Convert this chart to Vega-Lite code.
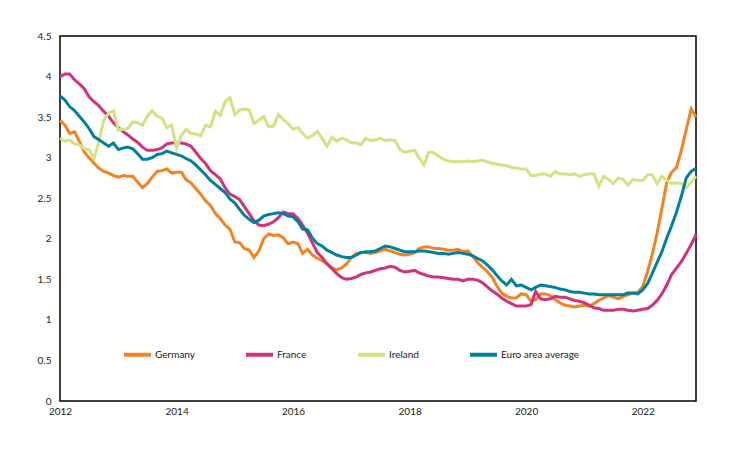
{
  "$schema": "https://vega.github.io/schema/vega-lite/v6.json",
  "width": 636,
  "height": 365,
  "autosize": {"type": "none"},
  "padding": {"left": 60, "top": 36, "right": 60, "bottom": 49},
  "background": "white",
  "config": {
    "font": "Lato",
    "view": {"stroke": "#000000", "strokeWidth": 1.5},
    "axis": {"labelFont": "Lato", "labelFontSize": 10, "labelColor": "#222222", "grid": false, "ticks": false, "domain": false}
  },
  "data": {
    "values": [
      {"date":"2012-01","Germany":3.46,"France":4.00,"Ireland":3.24,"Euro area average":3.76},
      {"date":"2012-02","Germany":3.40,"France":4.03,"Ireland":3.20,"Euro area average":3.71},
      {"date":"2012-03","Germany":3.30,"France":4.03,"Ireland":3.22,"Euro area average":3.63},
      {"date":"2012-04","Germany":3.32,"France":3.96,"Ireland":3.17,"Euro area average":3.58},
      {"date":"2012-05","Germany":3.20,"France":3.91,"Ireland":3.16,"Euro area average":3.51},
      {"date":"2012-06","Germany":3.07,"France":3.85,"Ireland":3.11,"Euro area average":3.44},
      {"date":"2012-07","Germany":3.00,"France":3.75,"Ireland":3.10,"Euro area average":3.36},
      {"date":"2012-08","Germany":2.93,"France":3.69,"Ireland":2.99,"Euro area average":3.26},
      {"date":"2012-09","Germany":2.87,"France":3.64,"Ireland":3.20,"Euro area average":3.22},
      {"date":"2012-10","Germany":2.83,"France":3.57,"Ireland":3.46,"Euro area average":3.18},
      {"date":"2012-11","Germany":2.81,"France":3.51,"Ireland":3.55,"Euro area average":3.14},
      {"date":"2012-12","Germany":2.78,"France":3.43,"Ireland":3.58,"Euro area average":3.18},
      {"date":"2013-01","Germany":2.76,"France":3.37,"Ireland":3.34,"Euro area average":3.10},
      {"date":"2013-02","Germany":2.78,"France":3.32,"Ireland":3.35,"Euro area average":3.12},
      {"date":"2013-03","Germany":2.77,"France":3.28,"Ireland":3.36,"Euro area average":3.13},
      {"date":"2013-04","Germany":2.77,"France":3.23,"Ireland":3.44,"Euro area average":3.11},
      {"date":"2013-05","Germany":2.70,"France":3.19,"Ireland":3.43,"Euro area average":3.05},
      {"date":"2013-06","Germany":2.63,"France":3.13,"Ireland":3.40,"Euro area average":2.98},
      {"date":"2013-07","Germany":2.68,"France":3.09,"Ireland":3.51,"Euro area average":2.98},
      {"date":"2013-08","Germany":2.76,"France":3.09,"Ireland":3.58,"Euro area average":3.00},
      {"date":"2013-09","Germany":2.83,"France":3.10,"Ireland":3.51,"Euro area average":3.04},
      {"date":"2013-10","Germany":2.84,"France":3.12,"Ireland":3.49,"Euro area average":3.05},
      {"date":"2013-11","Germany":2.86,"France":3.17,"Ireland":3.37,"Euro area average":3.08},
      {"date":"2013-12","Germany":2.81,"France":3.18,"Ireland":3.40,"Euro area average":3.06},
      {"date":"2014-01","Germany":2.82,"France":3.18,"Ireland":3.12,"Euro area average":3.04},
      {"date":"2014-02","Germany":2.82,"France":3.18,"Ireland":3.28,"Euro area average":3.02},
      {"date":"2014-03","Germany":2.73,"France":3.17,"Ireland":3.35,"Euro area average":2.99},
      {"date":"2014-04","Germany":2.69,"France":3.14,"Ireland":3.30,"Euro area average":2.96},
      {"date":"2014-05","Germany":2.62,"France":3.07,"Ireland":3.29,"Euro area average":2.91},
      {"date":"2014-06","Germany":2.55,"France":2.99,"Ireland":3.27,"Euro area average":2.85},
      {"date":"2014-07","Germany":2.47,"France":2.93,"Ireland":3.40,"Euro area average":2.79},
      {"date":"2014-08","Germany":2.41,"France":2.84,"Ireland":3.38,"Euro area average":2.72},
      {"date":"2014-09","Germany":2.31,"France":2.79,"Ireland":3.57,"Euro area average":2.67},
      {"date":"2014-10","Germany":2.25,"France":2.74,"Ireland":3.52,"Euro area average":2.62},
      {"date":"2014-11","Germany":2.17,"France":2.63,"Ireland":3.69,"Euro area average":2.57},
      {"date":"2014-12","Germany":2.12,"France":2.55,"Ireland":3.74,"Euro area average":2.49},
      {"date":"2015-01","Germany":1.96,"France":2.52,"Ireland":3.53,"Euro area average":2.44},
      {"date":"2015-02","Germany":1.95,"France":2.48,"Ireland":3.59,"Euro area average":2.36},
      {"date":"2015-03","Germany":1.88,"France":2.40,"Ireland":3.60,"Euro area average":2.29},
      {"date":"2015-04","Germany":1.86,"France":2.31,"Ireland":3.59,"Euro area average":2.24},
      {"date":"2015-05","Germany":1.77,"France":2.22,"Ireland":3.42,"Euro area average":2.20},
      {"date":"2015-06","Germany":1.85,"France":2.17,"Ireland":3.46,"Euro area average":2.23},
      {"date":"2015-07","Germany":2.00,"France":2.16,"Ireland":3.51,"Euro area average":2.28},
      {"date":"2015-08","Germany":2.06,"France":2.18,"Ireland":3.38,"Euro area average":2.30},
      {"date":"2015-09","Germany":2.04,"France":2.21,"Ireland":3.39,"Euro area average":2.31},
      {"date":"2015-10","Germany":2.05,"France":2.26,"Ireland":3.53,"Euro area average":2.32},
      {"date":"2015-11","Germany":2.01,"France":2.33,"Ireland":3.47,"Euro area average":2.31},
      {"date":"2015-12","Germany":1.94,"France":2.31,"Ireland":3.42,"Euro area average":2.28},
      {"date":"2016-01","Germany":1.96,"France":2.31,"Ireland":3.35,"Euro area average":2.27},
      {"date":"2016-02","Germany":1.94,"France":2.25,"Ireland":3.37,"Euro area average":2.21},
      {"date":"2016-03","Germany":1.82,"France":2.17,"Ireland":3.30,"Euro area average":2.12},
      {"date":"2016-04","Germany":1.87,"France":2.07,"Ireland":3.24,"Euro area average":2.11},
      {"date":"2016-05","Germany":1.80,"France":1.95,"Ireland":3.27,"Euro area average":2.01},
      {"date":"2016-06","Germany":1.76,"France":1.83,"Ireland":3.32,"Euro area average":1.94},
      {"date":"2016-07","Germany":1.73,"France":1.77,"Ireland":3.24,"Euro area average":1.91},
      {"date":"2016-08","Germany":1.69,"France":1.69,"Ireland":3.14,"Euro area average":1.86},
      {"date":"2016-09","Germany":1.64,"France":1.63,"Ireland":3.25,"Euro area average":1.83},
      {"date":"2016-10","Germany":1.62,"France":1.57,"Ireland":3.20,"Euro area average":1.80},
      {"date":"2016-11","Germany":1.64,"France":1.52,"Ireland":3.24,"Euro area average":1.78},
      {"date":"2016-12","Germany":1.69,"France":1.50,"Ireland":3.22,"Euro area average":1.77},
      {"date":"2017-01","Germany":1.77,"France":1.51,"Ireland":3.18,"Euro area average":1.77},
      {"date":"2017-02","Germany":1.82,"France":1.53,"Ireland":3.18,"Euro area average":1.80},
      {"date":"2017-03","Germany":1.83,"France":1.56,"Ireland":3.16,"Euro area average":1.83},
      {"date":"2017-04","Germany":1.83,"France":1.58,"Ireland":3.24,"Euro area average":1.84},
      {"date":"2017-05","Germany":1.82,"France":1.59,"Ireland":3.21,"Euro area average":1.84},
      {"date":"2017-06","Germany":1.83,"France":1.61,"Ireland":3.22,"Euro area average":1.85},
      {"date":"2017-07","Germany":1.85,"France":1.63,"Ireland":3.24,"Euro area average":1.88},
      {"date":"2017-08","Germany":1.87,"France":1.64,"Ireland":3.21,"Euro area average":1.91},
      {"date":"2017-09","Germany":1.85,"France":1.66,"Ireland":3.22,"Euro area average":1.90},
      {"date":"2017-10","Germany":1.83,"France":1.65,"Ireland":3.21,"Euro area average":1.88},
      {"date":"2017-11","Germany":1.81,"France":1.61,"Ireland":3.10,"Euro area average":1.86},
      {"date":"2017-12","Germany":1.80,"France":1.59,"Ireland":3.07,"Euro area average":1.84},
      {"date":"2018-01","Germany":1.81,"France":1.60,"Ireland":3.08,"Euro area average":1.84},
      {"date":"2018-02","Germany":1.83,"France":1.61,"Ireland":3.09,"Euro area average":1.84},
      {"date":"2018-03","Germany":1.88,"France":1.58,"Ireland":3.00,"Euro area average":1.85},
      {"date":"2018-04","Germany":1.90,"France":1.56,"Ireland":2.91,"Euro area average":1.85},
      {"date":"2018-05","Germany":1.90,"France":1.54,"Ireland":3.07,"Euro area average":1.84},
      {"date":"2018-06","Germany":1.88,"France":1.53,"Ireland":3.06,"Euro area average":1.83},
      {"date":"2018-07","Germany":1.88,"France":1.53,"Ireland":3.02,"Euro area average":1.82},
      {"date":"2018-08","Germany":1.87,"France":1.52,"Ireland":2.98,"Euro area average":1.82},
      {"date":"2018-09","Germany":1.86,"France":1.51,"Ireland":2.96,"Euro area average":1.81},
      {"date":"2018-10","Germany":1.86,"France":1.50,"Ireland":2.95,"Euro area average":1.82},
      {"date":"2018-11","Germany":1.87,"France":1.50,"Ireland":2.95,"Euro area average":1.83},
      {"date":"2018-12","Germany":1.84,"France":1.48,"Ireland":2.95,"Euro area average":1.82},
      {"date":"2019-01","Germany":1.85,"France":1.50,"Ireland":2.96,"Euro area average":1.81},
      {"date":"2019-02","Germany":1.78,"France":1.50,"Ireland":2.95,"Euro area average":1.79},
      {"date":"2019-03","Germany":1.71,"France":1.49,"Ireland":2.96,"Euro area average":1.76},
      {"date":"2019-04","Germany":1.65,"France":1.46,"Ireland":2.97,"Euro area average":1.73},
      {"date":"2019-05","Germany":1.60,"France":1.41,"Ireland":2.95,"Euro area average":1.68},
      {"date":"2019-06","Germany":1.53,"France":1.36,"Ireland":2.93,"Euro area average":1.62},
      {"date":"2019-07","Germany":1.42,"France":1.32,"Ireland":2.92,"Euro area average":1.55},
      {"date":"2019-08","Germany":1.33,"France":1.27,"Ireland":2.91,"Euro area average":1.48},
      {"date":"2019-09","Germany":1.29,"France":1.23,"Ireland":2.90,"Euro area average":1.43},
      {"date":"2019-10","Germany":1.27,"France":1.20,"Ireland":2.88,"Euro area average":1.50},
      {"date":"2019-11","Germany":1.27,"France":1.17,"Ireland":2.87,"Euro area average":1.42},
      {"date":"2019-12","Germany":1.32,"France":1.17,"Ireland":2.86,"Euro area average":1.43},
      {"date":"2020-01","Germany":1.31,"France":1.17,"Ireland":2.86,"Euro area average":1.40},
      {"date":"2020-02","Germany":1.23,"France":1.19,"Ireland":2.78,"Euro area average":1.37},
      {"date":"2020-03","Germany":1.25,"France":1.35,"Ireland":2.78,"Euro area average":1.40},
      {"date":"2020-04","Germany":1.32,"France":1.26,"Ireland":2.80,"Euro area average":1.43},
      {"date":"2020-05","Germany":1.32,"France":1.25,"Ireland":2.80,"Euro area average":1.42},
      {"date":"2020-06","Germany":1.30,"France":1.26,"Ireland":2.77,"Euro area average":1.41},
      {"date":"2020-07","Germany":1.25,"France":1.29,"Ireland":2.83,"Euro area average":1.40},
      {"date":"2020-08","Germany":1.21,"France":1.28,"Ireland":2.80,"Euro area average":1.38},
      {"date":"2020-09","Germany":1.18,"France":1.28,"Ireland":2.80,"Euro area average":1.37},
      {"date":"2020-10","Germany":1.17,"France":1.26,"Ireland":2.79,"Euro area average":1.35},
      {"date":"2020-11","Germany":1.16,"France":1.24,"Ireland":2.80,"Euro area average":1.34},
      {"date":"2020-12","Germany":1.17,"France":1.23,"Ireland":2.77,"Euro area average":1.34},
      {"date":"2021-01","Germany":1.18,"France":1.21,"Ireland":2.79,"Euro area average":1.33},
      {"date":"2021-02","Germany":1.17,"France":1.18,"Ireland":2.80,"Euro area average":1.32},
      {"date":"2021-03","Germany":1.20,"France":1.15,"Ireland":2.80,"Euro area average":1.32},
      {"date":"2021-04","Germany":1.24,"France":1.14,"Ireland":2.65,"Euro area average":1.31},
      {"date":"2021-05","Germany":1.27,"France":1.12,"Ireland":2.77,"Euro area average":1.31},
      {"date":"2021-06","Germany":1.30,"France":1.12,"Ireland":2.73,"Euro area average":1.31},
      {"date":"2021-07","Germany":1.28,"France":1.12,"Ireland":2.68,"Euro area average":1.31},
      {"date":"2021-08","Germany":1.26,"France":1.13,"Ireland":2.75,"Euro area average":1.31},
      {"date":"2021-09","Germany":1.29,"France":1.13,"Ireland":2.73,"Euro area average":1.31},
      {"date":"2021-10","Germany":1.31,"France":1.12,"Ireland":2.66,"Euro area average":1.33},
      {"date":"2021-11","Germany":1.33,"France":1.11,"Ireland":2.73,"Euro area average":1.33},
      {"date":"2021-12","Germany":1.34,"France":1.12,"Ireland":2.72,"Euro area average":1.32},
      {"date":"2022-01","Germany":1.41,"France":1.13,"Ireland":2.72,"Euro area average":1.37},
      {"date":"2022-02","Germany":1.60,"France":1.14,"Ireland":2.79,"Euro area average":1.45},
      {"date":"2022-03","Germany":1.80,"France":1.18,"Ireland":2.79,"Euro area average":1.57},
      {"date":"2022-04","Germany":2.07,"France":1.24,"Ireland":2.68,"Euro area average":1.71},
      {"date":"2022-05","Germany":2.37,"France":1.32,"Ireland":2.77,"Euro area average":1.84},
      {"date":"2022-06","Germany":2.70,"France":1.43,"Ireland":2.72,"Euro area average":2.01},
      {"date":"2022-07","Germany":2.82,"France":1.56,"Ireland":2.68,"Euro area average":2.16},
      {"date":"2022-08","Germany":2.88,"France":1.64,"Ireland":2.69,"Euro area average":2.33},
      {"date":"2022-09","Germany":3.10,"France":1.72,"Ireland":2.68,"Euro area average":2.53},
      {"date":"2022-10","Germany":3.35,"France":1.82,"Ireland":2.63,"Euro area average":2.75},
      {"date":"2022-11","Germany":3.60,"France":1.93,"Ireland":2.70,"Euro area average":2.83},
      {"date":"2022-12","Germany":3.50,"France":2.05,"Ireland":2.77,"Euro area average":2.87}
    ]
  },
  "transform": [
    {"fold": ["Germany", "France", "Ireland", "Euro area average"], "as": ["series", "value"]}
  ],
  "mark": {"type": "line", "strokeWidth": 3},
  "encoding": {
    "x": {
      "field": "date",
      "type": "temporal",
      "scale": {"type": "utc", "nice": false},
      "axis": {"title": null, "format": "%Y", "tickCount": {"interval": "year", "step": 2}, "labelPadding": 5, "labelAlign": "center", "labelFlush": false}
    },
    "y": {
      "field": "value",
      "type": "quantitative",
      "scale": {"domain": [0, 4.5], "nice": false},
      "axis": {"title": null, "values": [0, 0.5, 1, 1.5, 2, 2.5, 3, 3.5, 4, 4.5], "format": "~g", "labelPadding": 9}
    },
    "color": {
      "field": "series",
      "type": "nominal",
      "scale": {"domain": ["Germany", "France", "Ireland", "Euro area average"], "range": ["#F58220", "#D3307D", "#D4E283", "#00809E"]},
      "legend": {
        "title": null,
        "orient": "none",
        "legendX": 62,
        "legendY": 303,
        "direction": "horizontal",
        "columns": 4,
        "symbolType": "stroke",
        "symbolSize": 729,
        "symbolStrokeWidth": 4,
        "labelOffset": 2,
        "columnPadding": 43,
        "labelFont": "Lato",
        "labelFontSize": 10,
        "labelColor": "#222222"
      }
    }
  }
}
